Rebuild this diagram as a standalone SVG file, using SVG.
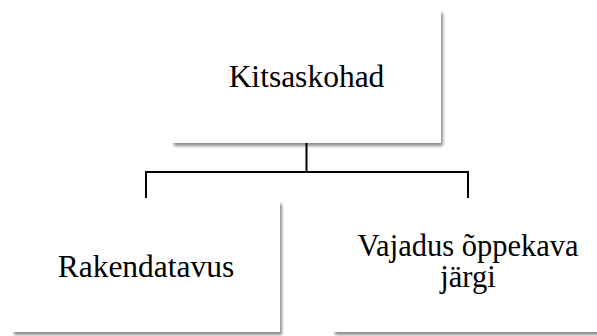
<svg xmlns="http://www.w3.org/2000/svg" width="597" height="336" viewBox="0 0 597 336">
<style>
.box{fill:#ffffff;filter:url(#sh)}
.lbl{font-family:"Liberation Serif","Times New Roman",serif;font-size:31.5px;fill:#000;text-anchor:middle}
.lbl2{font-size:30.5px}
.conn{fill:none;stroke:#000;stroke-width:2}
</style>
<defs>
<filter id="sh" x="-10%" y="-10%" width="130%" height="130%">
<feGaussianBlur in="SourceAlpha" stdDeviation="1.5"/>
<feOffset dx="2" dy="3" result="o"/>
<feComponentTransfer><feFuncA type="linear" slope="0.45"/></feComponentTransfer>
<feMerge><feMergeNode/><feMergeNode in="SourceGraphic"/></feMerge>
</filter>
</defs>
<rect width="597" height="336" fill="#ffffff"/>
<g id="connectors">
<path class="conn" d="M306.5 143 V172 M146 198 V172 H468 V198"/>
</g>
<g id="node-top">
<rect class="box" x="172" y="10" width="269" height="133"/>
<text class="lbl" x="306.5" y="87">Kitsaskohad</text>
</g>
<g id="node-left">
<rect class="box" x="12" y="201" width="268" height="131"/>
<text class="lbl" x="146" y="277">Rakendatavus</text>
</g>
<g id="node-right">
<rect class="box" x="333" y="201" width="270" height="131"/>
<text class="lbl lbl2"><tspan x="468" y="256">Vajadus õppekava</tspan><tspan x="468" y="287">järgi</tspan></text>
</g>
</svg>
